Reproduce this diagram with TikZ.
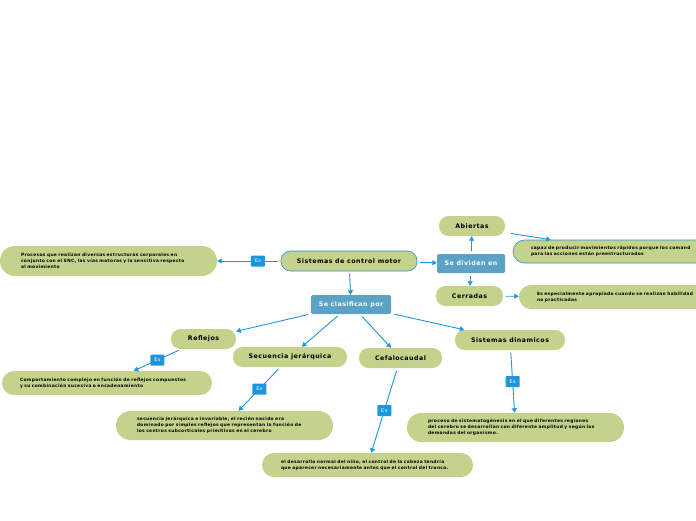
\documentclass[tikz,border=0pt]{standalone}
\usepackage{fontspec}
\setmainfont[LetterSpace=7.5]{DejaVu Sans}
\usetikzlibrary{arrows.meta}
\definecolor{ideagreen}{RGB}{196,210,139}
\definecolor{topicblue}{RGB}{92,161,198}
\definecolor{linkblue}{RGB}{30,150,222}

\begin{document}
\begin{tikzpicture}[x=1pt, y=-1pt, line cap=round, line join=round,
    idea/.style={fill=ideagreen, rounded corners=9.5pt, minimum height=20pt, inner sep=0pt,
      font=\fontsize{6.3}{7}\selectfont\bfseries},
    topic/.style={fill=topicblue, rounded corners=1.5pt, minimum height=19pt, inner sep=0pt,
      text=white, font=\fontsize{6.3}{7}\selectfont\bfseries},
    note/.style={fill=ideagreen, align=left, inner ysep=0pt,
      font=\fontsize{4.4}{6}\selectfont\bfseries},
    link/.style={draw=linkblue, line width=0.9pt, -{Triangle[length=4.5pt,width=5pt]}, shorten <=3pt},
    es/.style={fill=linkblue, text=white, minimum width=14pt, minimum height=11pt, inner sep=0pt,
      rounded corners=0.8pt, font=\fontsize{5}{5}\selectfont}]
  \useasboundingbox (0,0) rectangle (696,520);
  \clip (0,0) rectangle (696,520);

  \node[idea, draw=linkblue, line width=0.6pt, minimum width=136pt] (control) at (349,261) {Sistemas de control motor};
  \node[note, text width=175pt, inner xsep=21pt, minimum height=30pt, rounded corners=15pt] (procesos) at (108.5,261)
    {Procesos que realizan diversas estructuras corporales en\\conjunto con el SNC, las vías motoras y la sensitiva respecto\\al movimiento};

  \node[topic, minimum width=68pt] (dividen) at (471,263.5) {Se dividen en};
  \node[idea, minimum width=66pt] (abiertas) at (472,226) {Abiertas};
  \node[idea, minimum width=67pt] (cerradas) at (469.5,296) {Cerradas};
  \node[note, draw=linkblue, line width=0.6pt, text width=211pt, inner xsep=18pt, minimum height=23pt, rounded corners=11.5pt] (abdesc) at (636.5,251.5)
    {capaz de producir movimientos rápidos porque los comand\\para las acciones están preestructurados};
  \node[note, text width=215pt, inner xsep=18pt, minimum height=24pt, rounded corners=12pt] (cerdesc) at (644.5,297)
    {Es especialmente apropiado cuando se realizan habilidad\\no practicadas};

  \node[topic, minimum width=80pt] (clasifican) at (351,304.5) {Se clasifican por};
  \node[idea, minimum width=65pt] (reflejos) at (203.5,339) {Reflejos};
  \node[idea, minimum width=114pt] (secuencia) at (290,357) {Secuencia jerárquica};
  \node[idea, minimum width=83pt] (cefalo) at (400.5,358) {Cefalocaudal};
  \node[idea, minimum width=110pt] (dinamicos) at (510,340) {Sistemas dinamicos};

  \node[note, text width=174pt, inner xsep=18pt, minimum height=24pt, rounded corners=12pt] (refdesc) at (107,383)
    {Comportamiento complejo en función de reflejos compuestos\\y su combinación sucesiva o encadenamiento};
  \node[note, text width=175pt, inner xsep=21pt, minimum height=29pt, rounded corners=14.5pt] (secdesc) at (224.5,425.5)
    {secuencia jerárquica e invariable, el recién nacido era\\dominado por simples reflejos que representan la función de\\los centros subcorticales primitivos en el cerebro};
  \node[note, text width=173pt, inner xsep=19pt, minimum height=24pt, rounded corners=12pt] (cefdesc) at (367.5,465)
    {el desarrollo normal del niño, el control de la cabeza tendría\\que aparecer necesariamente antes que el control del tronco.};
  \node[note, text width=175pt, inner xsep=21pt, minimum height=29pt, rounded corners=14.5pt] (dindesc) at (515.5,427.5)
    {proceso de sistematogénesis en el que diferentes regiones\\del cerebro se desarrollan con diferente amplitud y según las\\demandas del organismo.};

  \draw[link] (control) -- node[es, pos=0.36] {Es} (procesos);
  \draw[link] (control) -- (dividen);
  \draw[link] (dividen) -- (abiertas);
  \draw[link] (dividen) -- (cerradas);
  \draw[link] ([shift={(3,7)}]abiertas.east) -- ([xshift=38pt]abdesc.north west);
  \draw[link] (cerradas) -- (cerdesc);
  \draw[link] (control) -- (clasifican);
  \draw[link] (clasifican) -- (reflejos);
  \draw[link] (clasifican) -- (secuencia);
  \draw[link] (clasifican) -- (cefalo);
  \draw[link] (clasifican) -- (dinamicos);
  \draw[link] (reflejos) -- node[es] {Es} (refdesc);
  \draw[link] (secuencia) -- node[es] {Es} (secdesc);
  \draw[link] (cefalo) -- node[es] {Es} (cefdesc);
  \draw[link] (dinamicos) -- node[es] {Es} (dindesc);
\end{tikzpicture}
\end{document}
